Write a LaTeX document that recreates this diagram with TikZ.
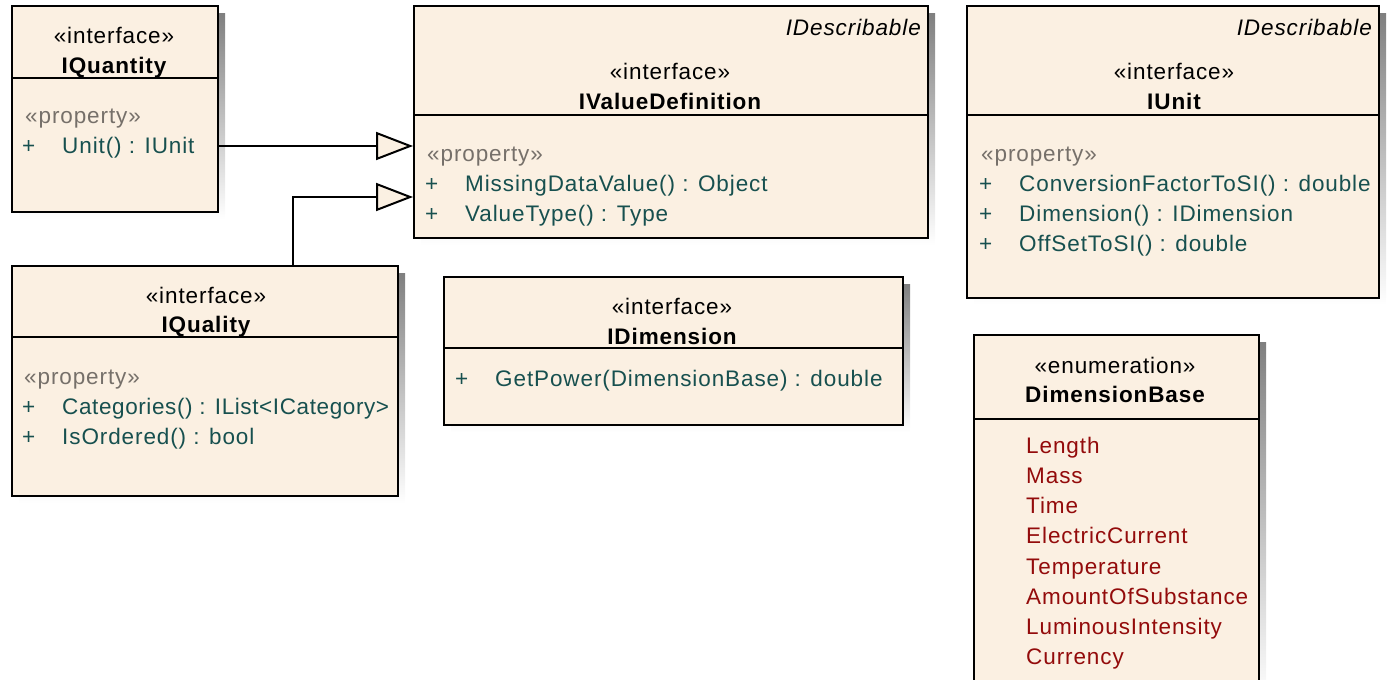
\documentclass[tikz,border=0pt]{standalone}
\usepackage{fontspec}
\setmainfont{Liberation Sans}[LetterSpace=4]
\usetikzlibrary{arrows.meta}

\definecolor{boxfill}{HTML}{FBF0E2}
\definecolor{shade}{HTML}{C4C4C4}
\definecolor{member}{HTML}{17504F}
\definecolor{stereo}{HTML}{76706A}
\definecolor{literal}{HTML}{930B0B}

\tikzset{
  classbox/.style={draw=black, line width=2pt, fill=boxfill, inner sep=0pt,
    anchor=north west, minimum width=#1},
  divider/.style={draw=black, line width=2pt},
  txt/.style={inner sep=0pt, yshift=-5pt, font=\fontsize{22.5}{30}\selectfont},
  stereotype/.style={txt, anchor=mid},
  clsname/.style={txt, anchor=mid, font=\fontsize{22.5}{30}\selectfont\bfseries},
  parenttag/.style={txt, anchor=mid east, font=\fontsize{22.5}{30}\selectfont\itshape},
  propgroup/.style={txt, anchor=mid west, text=stereo},
  visib/.style={txt, anchor=mid west, text=member},
  feature/.style={txt, anchor=mid west, text=member},
  tightfeature/.style={feature, font=\fontsize{22.5}{30}\selectfont\addfontfeatures{LetterSpace=2.7}},
  enumlit/.style={txt, anchor=mid west, text=literal},
  generalize/.style={draw=black, line width=2pt,
    -{Triangle[length=37pt, width=28pt, fill=boxfill, line width=2pt]}}
}

\begin{document}
\begin{tikzpicture}[x=1pt, y=-1pt]
\useasboundingbox (0,0) rectangle (1390,680);
\clip (0,0) rectangle (1390,680);

% drop shadows
\fill[shade] (19,13) rectangle (225,219);
\fill[shade] (421,13) rectangle (935,245);
\fill[shade] (974,13) rectangle (1386,305);
\fill[shade] (19,273) rectangle (405,503);
\fill[shade] (451,284) rectangle (910,432);
\fill[shade] (981,342) rectangle (1266,700);

% IQuantity
\node[classbox=206pt, minimum height=206pt] (qty) at (11,5) {};
\draw[divider] (qty.west |- 0,78) -- (qty.east |- 0,78);
\node[stereotype] (qtyS) at (114,36) {«interface»};
\node[clsname] (qtyN) at (114,66) {IQuantity};
\node[propgroup] (qtyP) at (25,116) {«property»};
\node[visib] (qtyV1) at (22,146) {+};
\node[feature] (qtyF1) at (62,146) {Unit() : IUnit};

% IValueDefinition
\node[classbox=514pt, minimum height=232pt] (vd) at (413,5) {};
\draw[divider] (vd.west |- 0,115) -- (vd.east |- 0,115);
\node[parenttag] (vdT) at (921,28) {IDescribable};
\node[stereotype] (vdS) at (670,72) {«interface»};
\node[clsname] (vdN) at (670,102) {IValueDefinition};
\node[propgroup] (vdP) at (427,154) {«property»};
\node[visib] (vdV1) at (425,184) {+};
\node[feature] (vdF1) at (465,184) {MissingDataValue() : Object};
\node[visib] (vdV2) at (425,214) {+};
\node[feature] (vdF2) at (465,214) {ValueType() : Type};

% IUnit
\node[classbox=412pt, minimum height=292pt] (unit) at (966,5) {};
\draw[divider] (unit.west |- 0,115) -- (unit.east |- 0,115);
\node[parenttag] (unitT) at (1372,28) {IDescribable};
\node[stereotype] (unitS) at (1174,72) {«interface»};
\node[clsname] (unitN) at (1174,102) {IUnit};
\node[propgroup] (unitP) at (981,154) {«property»};
\node[visib] (unitV1) at (979,184) {+};
\node[feature] (unitF1) at (1019,184) {ConversionFactorToSI() : double};
\node[visib] (unitV2) at (979,214) {+};
\node[feature] (unitF2) at (1019,214) {Dimension() : IDimension};
\node[visib] (unitV3) at (979,244) {+};
\node[feature] (unitF3) at (1019,244) {OffSetToSI() : double};

% IQuality
\node[classbox=386pt, minimum height=230pt] (qual) at (11,265) {};
\draw[divider] (qual.west |- 0,337) -- (qual.east |- 0,337);
\node[stereotype] (qualS) at (206,296) {«interface»};
\node[clsname] (qualN) at (206,325) {IQuality};
\node[propgroup] (qualP) at (24,377) {«property»};
\node[visib] (qualV1) at (22,407) {+};
\node[tightfeature] (qualF1) at (62,407) {Categories() : IList<ICategory>};
\node[visib] (qualV2) at (22,437) {+};
\node[feature] (qualF2) at (62,437) {IsOrdered() : bool};

% IDimension
\node[classbox=459pt, minimum height=148pt] (dim) at (443,276) {};
\draw[divider] (dim.west |- 0,348) -- (dim.east |- 0,348);
\node[stereotype] (dimS) at (672,307) {«interface»};
\node[clsname] (dimN) at (672,337) {IDimension};
\node[visib] (dimV1) at (455,379) {+};
\node[feature] (dimF1) at (495,379) {GetPower(DimensionBase) : double};

% DimensionBase
\node[classbox=285pt, minimum height=360pt] (base) at (973,334) {};
\draw[divider] (base.west |- 0,419) -- (base.east |- 0,419);
\node[stereotype] (baseS) at (1115,366) {«enumeration»};
\node[clsname] (baseN) at (1115,395) {DimensionBase};
\node[enumlit] (baseL1) at (1026,446) {Length};
\node[enumlit] (baseL2) at (1026,476) {Mass};
\node[enumlit] (baseL3) at (1026,506) {Time};
\node[enumlit] (baseL4) at (1026,536) {ElectricCurrent};
\node[enumlit] (baseL5) at (1026,567) {Temperature};
\node[enumlit] (baseL6) at (1026,597) {AmountOfSubstance};
\node[enumlit] (baseL7) at (1026,627) {LuminousIntensity};
\node[enumlit] (baseL8) at (1026,657) {Currency};

% generalizations
\draw[generalize] (qty.east |- 0,146) -- (vd.west |- 0,146);
\draw[generalize] (qual.north -| 293,0) |- (vd.west |- 0,197);
\end{tikzpicture}
\end{document}
